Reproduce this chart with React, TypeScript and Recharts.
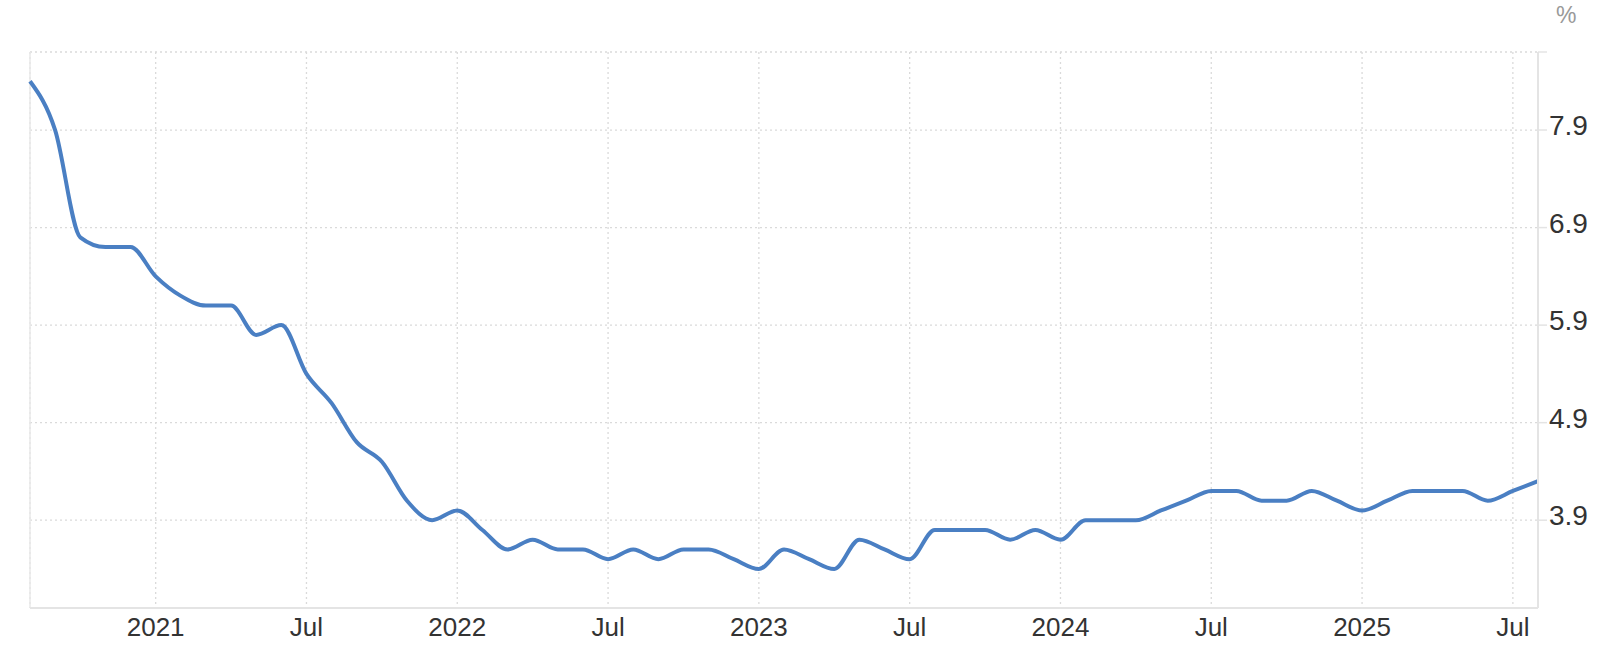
import React from 'react';
import {
  LineChart,
  Line,
  XAxis,
  YAxis,
  CartesianGrid,
  ReferenceLine,
} from 'recharts';

// Monthly series, Aug 2020 - Aug 2025
const months = [
  '2020-08', '2020-09', '2020-10', '2020-11', '2020-12',
  '2021-01', '2021-02', '2021-03', '2021-04', '2021-05', '2021-06',
  '2021-07', '2021-08', '2021-09', '2021-10', '2021-11', '2021-12',
  '2022-01', '2022-02', '2022-03', '2022-04', '2022-05', '2022-06',
  '2022-07', '2022-08', '2022-09', '2022-10', '2022-11', '2022-12',
  '2023-01', '2023-02', '2023-03', '2023-04', '2023-05', '2023-06',
  '2023-07', '2023-08', '2023-09', '2023-10', '2023-11', '2023-12',
  '2024-01', '2024-02', '2024-03', '2024-04', '2024-05', '2024-06',
  '2024-07', '2024-08', '2024-09', '2024-10', '2024-11', '2024-12',
  '2025-01', '2025-02', '2025-03', '2025-04', '2025-05', '2025-06',
  '2025-07', '2025-08',
];

const rates = [
  8.4, 7.9, 6.8, 6.7, 6.7,
  6.4, 6.2, 6.1, 6.1, 5.8, 5.9,
  5.4, 5.1, 4.7, 4.5, 4.1, 3.9,
  4.0, 3.8, 3.6, 3.7, 3.6, 3.6,
  3.5, 3.6, 3.5, 3.6, 3.6, 3.5,
  3.4, 3.6, 3.5, 3.4, 3.7, 3.6,
  3.5, 3.8, 3.8, 3.8, 3.7, 3.8,
  3.7, 3.9, 3.9, 3.9, 4.0, 4.1,
  4.2, 4.2, 4.1, 4.1, 4.2, 4.1,
  4.0, 4.1, 4.2, 4.2, 4.2, 4.1,
  4.2, 4.3,
];

const tickMonths = [
  '2021-01', '2021-07', '2022-01', '2022-07', '2023-01',
  '2023-07', '2024-01', '2024-07', '2025-01', '2025-07',
];
const tickLabels = ['2021', 'Jul', '2022', 'Jul', '2023', 'Jul', '2024', 'Jul', '2025', 'Jul'];

const yTicks = [3.9, 4.9, 5.9, 6.9, 7.9, 8.7];
const yTickLabels = ['3.9', '4.9', '5.9', '6.9', '7.9', ''];

const data = months.map((m, i) => ({ month: m, value: rates[i] }));

const FONT = '"Liberation Sans", Arial, Helvetica, sans-serif';

const YTick = (props: any) => {
  const { x, y, payload } = props;
  const label = yTickLabels[yTicks.indexOf(payload.value)];
  return (
    <text x={x} y={y} dy={5} textAnchor="start" fill="#333" fontSize={28} fontFamily={FONT}>
      {label}
    </text>
  );
};

export default function App() {
  return (
    <div style={{ position: 'absolute', left: 0, top: 0, width: 1600, height: 647, background: '#fff' }}>
      <span
        style={{
          position: 'absolute',
          left: 1556,
          top: 2,
          fontSize: 23,
          color: '#999',
          fontFamily: FONT,
        }}
      >
        %
      </span>
      <LineChart width={1600} height={647} data={data} margin={{ top: 52, right: 0, bottom: 0, left: 30 }}>
        <CartesianGrid stroke="#dadada" strokeDasharray="2 3" strokeWidth={1.3} />
        <XAxis
          dataKey="month"
          ticks={tickMonths}
          tickFormatter={(v: string) => tickLabels[tickMonths.indexOf(v)] ?? ''}
          height={39}
          tickLine={false}
          tickSize={6}
          tickMargin={4}
          axisLine={{ stroke: '#e4e4e4', strokeWidth: 2 }}
          tick={{ fill: '#333', fontSize: 26, fontFamily: FONT }}
          interval={0}
        />
        <YAxis
          orientation="right"
          width={62}
          type="number"
          domain={[3.0, 8.7]}
          ticks={yTicks}
          tick={<YTick />}
          tickSize={9}
          tickMargin={2}
          tickLine={{ stroke: '#e4e4e4', strokeWidth: 1.5 }}
          axisLine={{ stroke: '#e4e4e4', strokeWidth: 2 }}
        />
        <ReferenceLine x="2020-08" stroke="#e8e8e8" strokeWidth={1.5} />
        <Line
          type="monotone"
          dataKey="value"
          stroke="#4a7fc3"
          strokeWidth={4}
          dot={false}
          activeDot={false}
          isAnimationActive={false}
        />
      </LineChart>
    </div>
  );
}
